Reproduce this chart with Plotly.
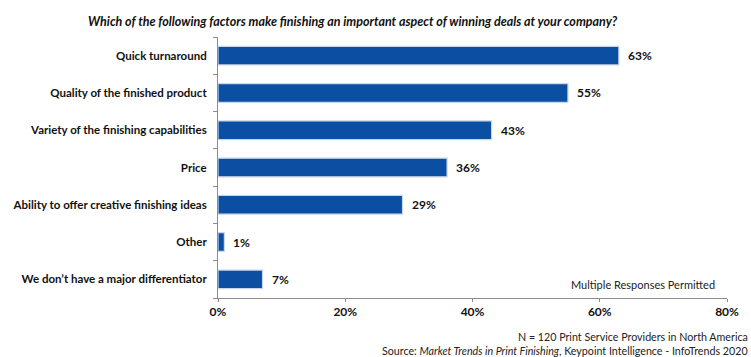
import plotly.graph_objects as go

categories = [
    "Quick turnaround",
    "Quality of the finished product",
    "Variety of the finishing capabilities",
    "Price",
    "Ability to offer creative finishing ideas",
    "Other",
    "We don\u2019t have a major differentiator",
]
values = [63, 55, 43, 36, 29, 1, 7]
tick_vals = [0, 20, 40, 60, 80]
tick_text = ["0%", "20%", "40%", "60%", "80%"]

FONT = "Lato, 'Open Sans', sans-serif"
BAR = "#0B4FA3"

fig = go.Figure()
fig.add_trace(go.Bar(
    y=categories, x=values, orientation="h",
    marker=dict(color=BAR, line=dict(color="#C9D6EA", width=1.2)),
    width=0.5,
    hoverinfo="skip",
))

for c, v in zip(categories, values):
    fig.add_annotation(x=v, y=c, xref="x", yref="y", text=f"<b>{v}%</b>",
                       showarrow=False, xanchor="left", xshift=7,
                       font=dict(family=FONT, size=12, color="#111"))

fig.add_annotation(xref="paper", yref="paper", x=0.5, y=1, yanchor="middle",
                   text="<b><i>Which of the following factors make finishing an important aspect of winning deals at your company?</i></b>",
                   showarrow=False, yshift=16, xshift=-120,
                   font=dict(family=FONT, size=12.5, color="#111"))
fig.add_annotation(xref="x", yref="paper", x=78.4, y=0, xanchor="right", yanchor="middle",
                   text="Multiple Responses Permitted", showarrow=False, yshift=14,
                   font=dict(family=FONT, size=11, color="#222"))
fig.add_annotation(xref="paper", yref="paper", x=1, y=0, xanchor="right", yanchor="middle",
                   text="N = 120 Print Service Providers in North America",
                   showarrow=False, yshift=-38, xshift=23,
                   font=dict(family=FONT, size=10.7, color="#222"))
fig.add_annotation(xref="paper", yref="paper", x=1, y=0, xanchor="right", yanchor="middle",
                   text="Source: <i>Market Trends in Print Finishing</i>, Keypoint Intelligence - InfoTrends 2020",
                   showarrow=False, yshift=-52, xshift=23,
                   font=dict(family=FONT, size=10.7, color="#222"))

fig.update_layout(
    width=751, height=357,
    margin=dict(l=218, r=24, t=37, b=59, autoexpand=False),
    paper_bgcolor="white", plot_bgcolor="white",
    showlegend=False,
    font=dict(family=FONT, size=12, color="#111"),
    xaxis=dict(range=[0, 80], tickvals=tick_vals, ticktext=["<b>%s</b>" % t for t in tick_text],
               showgrid=False, zeroline=False, showline=True, linecolor="#8C8C8C", linewidth=1,
               ticks="outside", ticklen=3, tickcolor="#8C8C8C", fixedrange=True, automargin=False,
               tickfont=dict(family=FONT, size=12, color="#111")),
    yaxis=dict(autorange="reversed", showgrid=False, showline=True, linecolor="#8C8C8C", linewidth=1,
               ticks="outside", ticklen=4, tickcolor="#8C8C8C", tickson="boundaries",
               ticklabelstandoff=8, automargin=False, fixedrange=True,
               tickvals=categories, ticktext=["<b>%s</b>" % c for c in categories],
               tickfont=dict(family=FONT, size=11.5, color="#111")),
)

fig.write_html("out.html",
               config={"displayModeBar": False},
               post_script="document.body.style.margin='0';document.body.style.overflow='hidden';")
